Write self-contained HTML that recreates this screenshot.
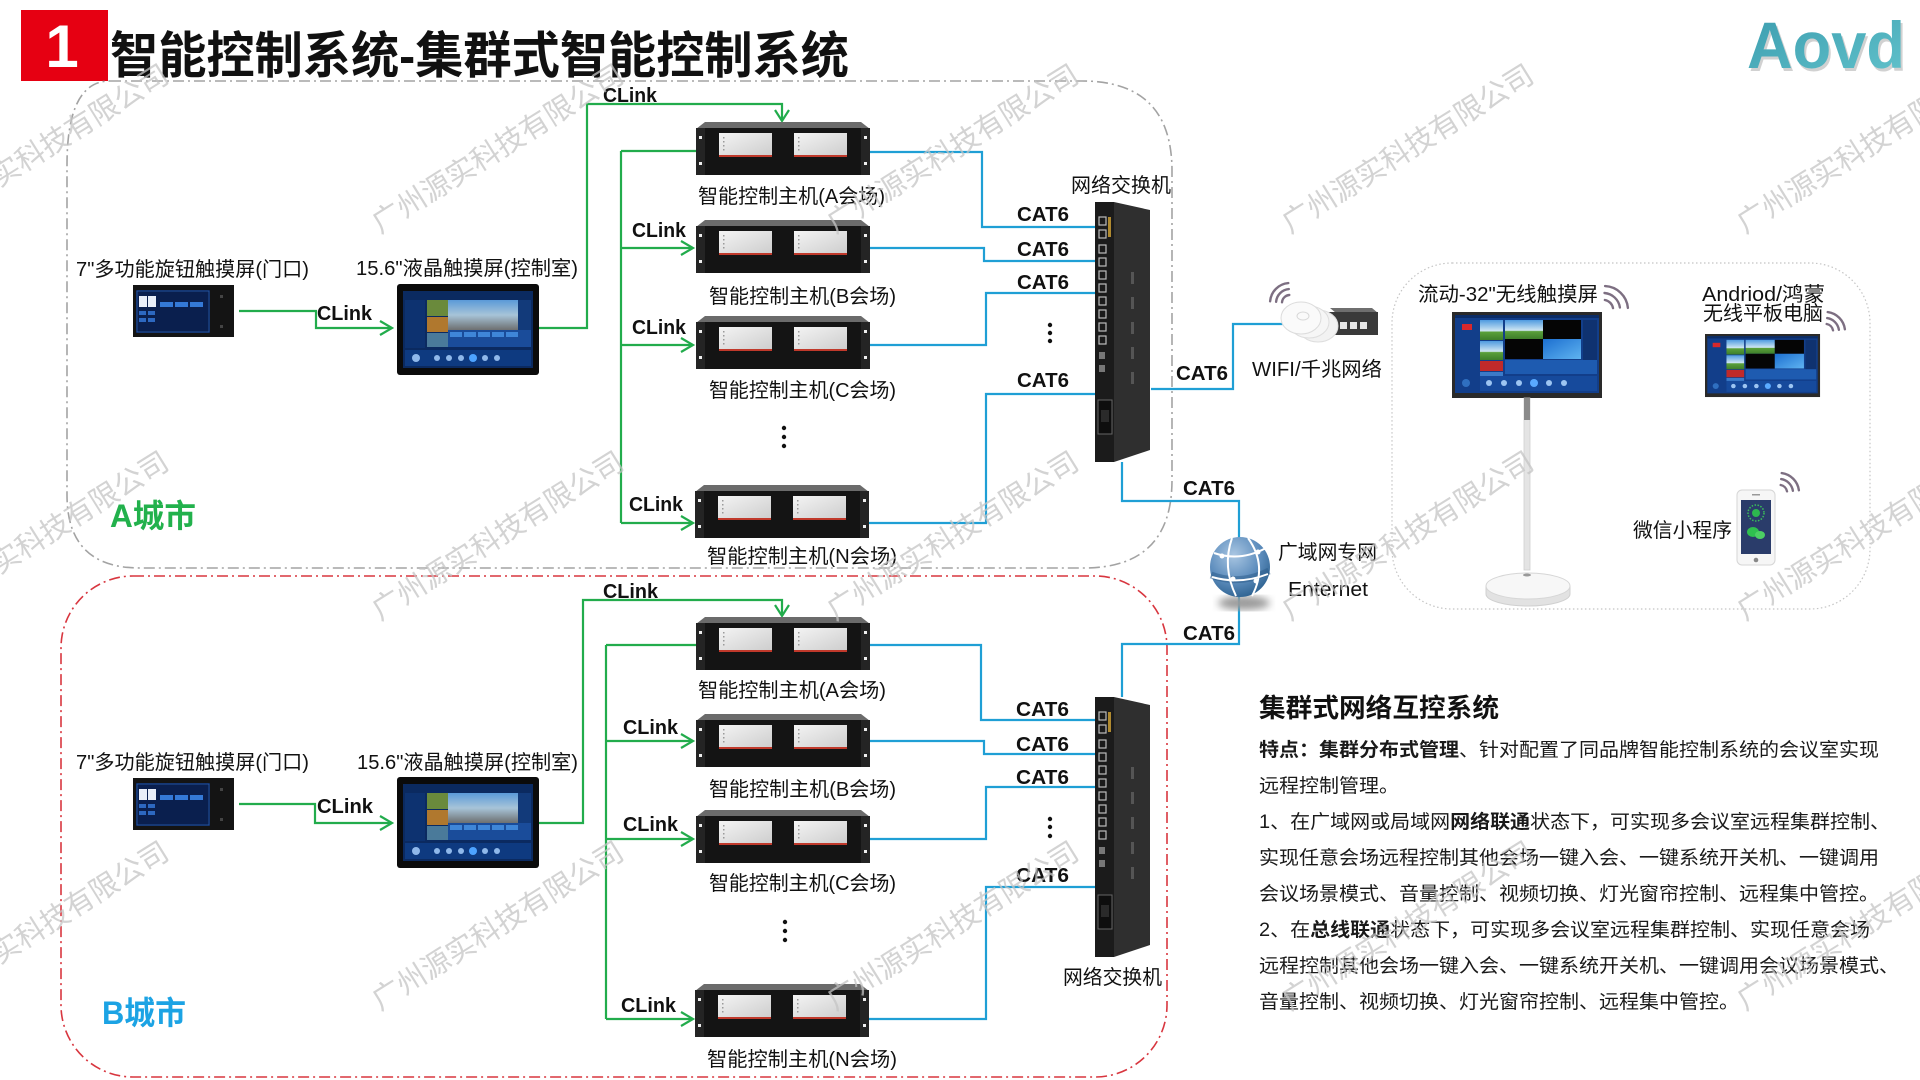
<!DOCTYPE html>
<html><head><meta charset="utf-8"><style>
html,body{margin:0;padding:0;background:#fff;}
svg{display:block;}
text{font-family:"Liberation Sans","Noto Sans CJK SC",sans-serif;}
</style></head><body>
<svg width="1920" height="1080" viewBox="0 0 1920 1080" xmlns="http://www.w3.org/2000/svg">
<defs>
 <linearGradient id="pan" x1="0" y1="0" x2="1" y2="1"><stop offset="0" stop-color="#f4f4f4"/><stop offset="1" stop-color="#cdcdcd"/></linearGradient>
 <linearGradient id="logo" x1="0" y1="0" x2="1" y2="1"><stop offset="0" stop-color="#3b9cae"/><stop offset="1" stop-color="#62c3cc"/></linearGradient>
 <radialGradient id="globe" cx="0.4" cy="0.3" r="0.8"><stop offset="0" stop-color="#a9c6e2"/><stop offset="0.55" stop-color="#5d8dbd"/><stop offset="1" stop-color="#245987"/></radialGradient>
 <linearGradient id="sky" x1="0" y1="0" x2="0" y2="1"><stop offset="0" stop-color="#5a9ad8"/><stop offset="0.5" stop-color="#a7c4d8"/><stop offset="1" stop-color="#6d6f70"/></linearGradient>
 <linearGradient id="land" x1="0" y1="0" x2="0" y2="1"><stop offset="0" stop-color="#4f9be0"/><stop offset="0.55" stop-color="#cfe6f2"/><stop offset="0.6" stop-color="#5aa03a"/><stop offset="1" stop-color="#3d7e2a"/></linearGradient>
 <linearGradient id="win" x1="0" y1="0" x2="1" y2="1"><stop offset="0" stop-color="#1c6fd0"/><stop offset="1" stop-color="#5fb3f0"/></linearGradient>
 <filter id="blur"><feGaussianBlur stdDeviation="4"/></filter>
 <g id="host">
  <polygon points="9,0 165,0 174,7 0,7" fill="#6b6b6b"/>
  <rect x="0" y="6" width="174" height="47" fill="#141414"/>
  <rect x="0" y="6" width="9" height="47" fill="#242424"/>
  <rect x="165" y="6" width="9" height="47" fill="#242424"/>
  <rect x="3" y="14" width="3" height="3" fill="#eee"/>
  <rect x="3" y="40" width="3" height="3" fill="#eee"/>
  <rect x="168" y="14" width="3" height="3" fill="#eee"/>
  <rect x="168" y="40" width="3" height="3" fill="#eee"/>
  <rect x="23" y="11" width="53" height="23" fill="url(#pan)"/>
  <rect x="23" y="33" width="53" height="2" fill="#c0392b"/>
  <rect x="98" y="11" width="53" height="23" fill="url(#pan)"/>
  <rect x="98" y="33" width="53" height="2" fill="#c0392b"/>
  <g fill="#9a9a9a"><rect x="27" y="15" width="1.5" height="1.5"/><rect x="27" y="19" width="1.5" height="1.5"/><rect x="27" y="23" width="1.5" height="1.5"/><rect x="27" y="27" width="1.5" height="1.5"/><rect x="102" y="15" width="1.5" height="1.5"/><rect x="102" y="19" width="1.5" height="1.5"/><rect x="102" y="23" width="1.5" height="1.5"/><rect x="102" y="27" width="1.5" height="1.5"/></g>
 </g>
 <g id="sw">
  <polygon points="19,0 55,8 55,248 19,260" fill="#2f2f2f"/>
  <rect x="0" y="0" width="19" height="260" fill="#1b1b1b"/>
  <g fill="none" stroke="#bdbdbd" stroke-width="1.2">
   <rect x="4" y="15" width="7" height="8"/><rect x="4" y="28" width="7" height="8"/>
   <rect x="4" y="43" width="7" height="8"/><rect x="4" y="56" width="7" height="8"/>
   <rect x="4" y="69" width="7" height="8"/><rect x="4" y="82" width="7" height="8"/>
   <rect x="4" y="95" width="7" height="8"/><rect x="4" y="108" width="7" height="8"/>
   <rect x="4" y="121" width="7" height="8"/><rect x="4" y="134" width="7" height="8"/>
  </g>
  <rect x="13" y="15" width="3" height="20" fill="#b08a30"/>
  <g fill="#777"><rect x="4" y="150" width="6" height="7"/><rect x="4" y="163" width="6" height="7"/></g>
  <rect x="3" y="198" width="14" height="34" fill="#0e0e0e" stroke="#666" stroke-width="1"/>
  <rect x="6" y="208" width="8" height="12" fill="#2a2a2a"/>
  <g fill="#555"><rect x="36" y="70" width="3" height="12"/><rect x="36" y="95" width="3" height="12"/><rect x="36" y="120" width="3" height="12"/><rect x="36" y="145" width="3" height="12"/><rect x="36" y="170" width="3" height="12"/></g>
 </g>
 <g id="p7">
  <rect width="101" height="52" fill="#141414"/>
  <rect x="3" y="5" width="74" height="43" fill="#0a1f4e"/>
  <rect x="4" y="6" width="72" height="41" fill="none" stroke="#2a5fb0" stroke-width="0.8"/>
  <rect x="6" y="11" width="8" height="11" fill="#e9eef8"/>
  <rect x="15" y="11" width="8" height="11" fill="#e9eef8"/>
  <rect x="27" y="17" width="13" height="5" fill="#3479d6"/>
  <rect x="42" y="17" width="13" height="5" fill="#3479d6"/>
  <rect x="57" y="17" width="13" height="5" fill="#3479d6"/>
  <rect x="6" y="26" width="7" height="4" fill="#2d68c0"/><rect x="15" y="26" width="7" height="4" fill="#2d68c0"/>
  <rect x="6" y="33" width="7" height="4" fill="#2d68c0"/><rect x="15" y="33" width="7" height="4" fill="#2d68c0"/>
  <rect x="87" y="10" width="3" height="3" fill="#444"/><rect x="87" y="40" width="3" height="3" fill="#444"/>
 </g>
 <g id="p15">
  <rect width="142" height="91" rx="3" fill="#0b0b0b"/>
  <rect x="6" y="7" width="130" height="77" fill="#0b2a60"/>
  <rect x="8" y="16" width="20" height="48" fill="#0d3270"/>
  <rect x="30" y="16" width="21" height="16" fill="#6a8a3c"/>
  <rect x="30" y="33" width="21" height="15" fill="#b0782e"/>
  <rect x="30" y="49" width="21" height="14" fill="#4a7a9a"/>
  <rect x="51" y="16" width="70" height="30" fill="url(#sky)"/>
  <rect x="121" y="16" width="13" height="30" fill="#123a7a"/>
  <rect x="51" y="46" width="83" height="17" fill="#1a4c9a"/>
  <g fill="#3f86d8"><rect x="53" y="48" width="12" height="5"/><rect x="67" y="48" width="12" height="5"/><rect x="81" y="48" width="12" height="5"/><rect x="95" y="48" width="12" height="5"/><rect x="109" y="48" width="12" height="5"/></g>
  <rect x="8" y="66" width="126" height="16" fill="#0e3a80"/>
  <g fill="#8fb8ea"><circle cx="19" cy="74" r="4"/><circle cx="40" cy="74" r="3"/><circle cx="52" cy="74" r="3"/><circle cx="64" cy="74" r="3"/><circle cx="76" cy="74" r="4" fill="#4da3ff"/><circle cx="88" cy="74" r="3"/><circle cx="100" cy="74" r="3"/></g>
 </g>
 <g id="bigui">
  <rect width="150" height="86" fill="#2a2a2a"/>
  <rect x="3" y="3" width="144" height="78" fill="#123e8a"/>
  <rect x="3" y="3" width="144" height="3" fill="#0b2c66"/>
  <rect x="10" y="12" width="10" height="6" fill="#d8282c"/>
  <rect x="28" y="8" width="23" height="20" fill="url(#land)"/>
  <rect x="28" y="29" width="23" height="19" fill="url(#land)"/>
  <rect x="28" y="49" width="23" height="10" fill="#c02a2a"/>
  <rect x="28" y="60" width="23" height="12" fill="#3b7ac8"/>
  <rect x="53" y="8" width="38" height="19" fill="url(#land)"/>
  <rect x="91" y="8" width="38" height="19" fill="#050505"/>
  <rect x="53" y="27" width="38" height="20" fill="#050505"/>
  <rect x="91" y="27" width="38" height="20" fill="url(#win)"/>
  <rect x="131" y="8" width="14" height="42" fill="#0f3270"/>
  <rect x="53" y="48" width="92" height="14" fill="#1e5bb0"/>
  <rect x="28" y="64" width="117" height="15" fill="#164a9c"/>
  <g fill="#9cc5f2"><circle cx="37" cy="71" r="3"/><circle cx="52" cy="71" r="3"/><circle cx="67" cy="71" r="3"/><circle cx="82" cy="71" r="4" fill="#5aaaff"/><circle cx="97" cy="71" r="3"/><circle cx="112" cy="71" r="3"/></g>
  <circle cx="14" cy="71" r="4" fill="#2f6fc0"/>
 </g>
</defs>

<!-- Title -->
<rect x="21" y="10" width="87" height="71" fill="#e60012"/>
<text x="62" y="67" font-size="60" font-weight="bold" fill="#fff" text-anchor="middle">1</text>
<text x="110" y="73" font-size="50" font-weight="bold" fill="#111" textLength="739" lengthAdjust="spacingAndGlyphs">智能控制系统-集群式智能控制系统</text>
<text x="1749" y="71" font-size="66" font-weight="bold" fill="#9a9a9a" opacity="0.45" textLength="158" lengthAdjust="spacingAndGlyphs">Aovd</text>
<text x="1747" y="68" font-size="66" font-weight="bold" fill="url(#logo)" textLength="158" lengthAdjust="spacingAndGlyphs">Aovd</text>

<!-- Regions -->
<path d="M110,81 H1082 Q1172,81 1172,171 V480 Q1172,568 1084,568 H140 Q67,568 67,495 V165 Q67,81 110,81 Z" fill="none" stroke="#a3a3a3" stroke-width="1.6" stroke-dasharray="11 4 2 4"/>
<rect x="61" y="576" width="1106" height="501" rx="72" fill="none" stroke="#d8363f" stroke-width="1.6" stroke-dasharray="11 4 2 4"/>
<rect x="1392" y="263" width="478" height="346" rx="60" fill="none" stroke="#c4c4c4" stroke-width="1.2" stroke-dasharray="1.5 2.5"/>

<!-- Green connectors -->
<g fill="none" stroke="#22ac4c" stroke-width="2.2">
 <path d="M239,311 H316 V328 H392"/><path d="M380,321 L392,328 L380,335"/>
 <path d="M539,328 H587 V104 H782 V121"/><path d="M775,110 L782,121 L789,110"/>
 <path d="M621,151 V523"/>
 <path d="M621,151 H696"/>
 <path d="M621,248 H693"/><path d="M681,241 L693,248 L681,255"/>
 <path d="M621,345 H693"/><path d="M681,338 L693,345 L681,352"/>
 <path d="M621,523 H693"/><path d="M681,516 L693,523 L681,530"/>

 <path d="M239,804 H315 V823 H392"/><path d="M380,816 L392,823 L380,830"/>
 <path d="M539,823 H583 V600 H782 V616"/><path d="M775,605 L782,616 L789,605"/>
 <path d="M606,645 V1019"/>
 <path d="M606,645 H696"/>
 <path d="M606,741 H693"/><path d="M681,734 L693,741 L681,748"/>
 <path d="M606,839 H693"/><path d="M681,832 L693,839 L681,846"/>
 <path d="M606,1019 H693"/><path d="M681,1012 L693,1019 L681,1026"/>
</g>

<!-- Blue connectors -->
<g fill="none" stroke="#1f9fd5" stroke-width="2.2">
 <path d="M869,152 H982 V227 H1095"/>
 <path d="M869,248 H984 V261 H1095"/>
 <path d="M869,345 H986 V293 H1095"/>
 <path d="M869,523 H986 V394 H1095"/>
 <path d="M1151,389 H1233 V324 H1300"/>
 <path d="M1122,462 V501 H1239 V540"/>
 <path d="M1239,595 V644 H1122 V697"/>
 <path d="M869,645 H981 V720 H1095"/>
 <path d="M869,741 H984 V754 H1095"/>
 <path d="M869,839 H986 V787 H1095"/>
 <path d="M869,1019 H986 V887 H1095"/>
</g>

<!-- Screens -->
<use href="#p7" x="133" y="285"/>
<use href="#p15" x="397" y="284"/>
<use href="#p7" x="133" y="778"/>
<use href="#p15" x="397" y="777"/>

<!-- Hosts -->
<use href="#host" x="696" y="122"/>
<use href="#host" x="696" y="220"/>
<use href="#host" x="696" y="316"/>
<use href="#host" x="695" y="485"/>
<use href="#host" x="696" y="617"/>
<use href="#host" x="696" y="714"/>
<use href="#host" x="696" y="810"/>
<use href="#host" x="695" y="984"/>

<!-- Switches -->
<use href="#sw" x="1095" y="202"/>
<use href="#sw" x="1095" y="697"/>

<!-- dots -->
<g fill="#111">
 <circle cx="784" cy="428" r="2.2"/><circle cx="784" cy="437" r="2.2"/><circle cx="784" cy="446" r="2.2"/>
 <circle cx="1050" cy="325" r="2.2"/><circle cx="1050" cy="333" r="2.2"/><circle cx="1050" cy="341" r="2.2"/>
 <circle cx="785" cy="922" r="2.2"/><circle cx="785" cy="931" r="2.2"/><circle cx="785" cy="940" r="2.2"/>
 <circle cx="1050" cy="819" r="2.2"/><circle cx="1050" cy="827" r="2.2"/><circle cx="1050" cy="836" r="2.2"/>
</g>

<!-- WiFi AP -->
<g>
 <polygon points="1330,308 1372,308 1378,313 1336,313" fill="#6f6f6f"/>
 <rect x="1327" y="312" width="51" height="23" fill="#3a3a3a"/>
 <g fill="#e8e8e8"><rect x="1340" y="322" width="7" height="7"/><rect x="1350" y="322" width="7" height="7"/><rect x="1360" y="322" width="7" height="7"/></g>
 <ellipse cx="1318" cy="326" rx="20" ry="16" fill="#f2f2f2" stroke="#dedede"/>
 <ellipse cx="1309" cy="322" rx="20" ry="16" fill="#f6f6f6" stroke="#dedede"/>
 <ellipse cx="1301" cy="318" rx="20" ry="16" fill="#fafafa" stroke="#dcdcdc"/>
 <ellipse cx="1303" cy="316" rx="6" ry="4" fill="none" stroke="#d8d8d8"/>
</g>

<!-- Globe -->
<ellipse cx="1244" cy="603" rx="26" ry="7" fill="#9a9a9a" filter="url(#blur)"/>
<circle cx="1240" cy="567" r="30" fill="url(#globe)"/>
<path d="M1211,575 Q1240,586 1269,571" fill="none" stroke="#2a5a88" stroke-width="7" opacity="0.5"/>
<g fill="none" stroke="#fff" stroke-width="2">
 <path d="M1214,553 Q1240,562 1266,548"/>
 <path d="M1212,577 Q1240,585 1268,574"/>
 <path d="M1232,538 Q1222,567 1236,596"/>
 <path d="M1248,538 Q1268,566 1252,596"/>
</g>
<g fill="#fff"><circle cx="1222" cy="556" r="2.5"/><circle cx="1258" cy="552" r="2.5"/><circle cx="1256" cy="581" r="2.5"/><circle cx="1233" cy="579" r="2.5"/></g>

<!-- Right wireless devices -->
<use href="#bigui" x="1452" y="312"/>
<rect x="1524" y="398" width="6" height="172" fill="#e4e4e4" stroke="#cfcfcf" stroke-width="0.8"/>
<rect x="1524" y="398" width="6" height="22" fill="#8a8a8a"/>
<path d="M1486,586 V594 A42 12 0 0 0 1570,594 V586" fill="#e2e2e2" stroke="#d0d0d0"/>
<ellipse cx="1528" cy="586" rx="42" ry="13" fill="#f7f7f7" stroke="#d6d6d6"/>
<ellipse cx="1527" cy="575" rx="4" ry="1.5" fill="#999"/>
<g transform="translate(1705,334) scale(0.767,0.733)"><use href="#bigui"/></g>
<rect x="1737" y="490" width="38" height="75" rx="5" fill="#f6f6f6" stroke="#d6d6d6"/>
<rect x="1741" y="500" width="30" height="54" fill="#2a3c6a"/>
<circle cx="1756" cy="513" r="8" fill="none" stroke="#3bbf5a" stroke-width="1.5" stroke-dasharray="1.5 1.5"/>
<circle cx="1756" cy="513" r="4" fill="#2db84f"/>
<ellipse cx="1753" cy="532" rx="6" ry="5" fill="#2fbf4f"/>
<ellipse cx="1760" cy="535" rx="5" ry="4" fill="#4ccf63"/>
<circle cx="1756" cy="560" r="2.3" fill="#888"/>
<rect x="1752" y="494" width="8" height="1.5" fill="#999"/>

<!-- Wireless arcs -->
<g fill="none" stroke="#7d6f82" stroke-width="2.4" stroke-linecap="round">
 <path d="M1282,302.3 A8 8 0 0 1 1289.3,295"/>
 <path d="M1276.1,301.8 A14 14 0 0 1 1288.8,289.1"/>
 <path d="M1270.1,301.3 A20 20 0 0 1 1288.3,283.1"/>
 <path d="M1604.9,300 A10 10 0 0 1 1613,308.1"/>
 <path d="M1604.5,293 A17 17 0 0 1 1619.9,307.5"/>
 <path d="M1605.1,286.1 A24 24 0 0 1 1627.9,307.9"/>
 <path d="M1826.7,324 A8 8 0 0 1 1833,330.3"/>
 <path d="M1827.2,318.1 A14 14 0 0 1 1838.9,329.8"/>
 <path d="M1827.7,312.1 A20 20 0 0 1 1844.9,329.3"/>
 <path d="M1780.7,485 A8 8 0 0 1 1787,491.3"/>
 <path d="M1781.2,479.1 A14 14 0 0 1 1792.9,490.8"/>
 <path d="M1781.7,473.1 A20 20 0 0 1 1798.9,490.3"/>
</g>

<!-- Labels -->
<g font-size="20" fill="#111">
 <text x="76" y="276" textLength="233" lengthAdjust="spacingAndGlyphs">7"多功能旋钮触摸屏(门口)</text>
 <text x="356" y="275" textLength="222" lengthAdjust="spacingAndGlyphs">15.6"液晶触摸屏(控制室)</text>
 <text x="76" y="769" textLength="233" lengthAdjust="spacingAndGlyphs">7"多功能旋钮触摸屏(门口)</text>
 <text x="357" y="769" textLength="221" lengthAdjust="spacingAndGlyphs">15.6"液晶触摸屏(控制室)</text>

 <text x="698" y="203" textLength="187" lengthAdjust="spacingAndGlyphs">智能控制主机(A会场)</text>
 <text x="709" y="303" textLength="187" lengthAdjust="spacingAndGlyphs">智能控制主机(B会场)</text>
 <text x="709" y="397" textLength="187" lengthAdjust="spacingAndGlyphs">智能控制主机(C会场)</text>
 <text x="707" y="563" textLength="190" lengthAdjust="spacingAndGlyphs">智能控制主机(N会场)</text>
 <text x="698" y="697" textLength="188" lengthAdjust="spacingAndGlyphs">智能控制主机(A会场)</text>
 <text x="709" y="796" textLength="187" lengthAdjust="spacingAndGlyphs">智能控制主机(B会场)</text>
 <text x="709" y="890" textLength="187" lengthAdjust="spacingAndGlyphs">智能控制主机(C会场)</text>
 <text x="707" y="1066" textLength="190" lengthAdjust="spacingAndGlyphs">智能控制主机(N会场)</text>

 <text x="1071" y="192" textLength="100" lengthAdjust="spacingAndGlyphs">网络交换机</text>
 <text x="1063" y="984" textLength="99" lengthAdjust="spacingAndGlyphs">网络交换机</text>
 <text x="1252" y="376" textLength="130" lengthAdjust="spacingAndGlyphs">WIFI/千兆网络</text>
 <text x="1278" y="559" textLength="99" lengthAdjust="spacingAndGlyphs">广域网专网</text>
 <text x="1288" y="596" textLength="80" lengthAdjust="spacingAndGlyphs">Enternet</text>
 <text x="1418" y="301" textLength="180" lengthAdjust="spacingAndGlyphs">流动-32"无线触摸屏</text>
 <text x="1702" y="301" textLength="123" lengthAdjust="spacingAndGlyphs">Andriod/鸿蒙</text>
 <text x="1703" y="320" textLength="120" lengthAdjust="spacingAndGlyphs">无线平板电脑</text>
 <text x="1633" y="537" textLength="99" lengthAdjust="spacingAndGlyphs">微信小程序</text>
</g>

<g font-size="20" font-weight="bold" fill="#111">
 <text x="603" y="102" textLength="54" lengthAdjust="spacingAndGlyphs">CLink</text>
 <text x="317" y="320" textLength="55" lengthAdjust="spacingAndGlyphs">CLink</text>
 <text x="632" y="237" textLength="54" lengthAdjust="spacingAndGlyphs">CLink</text>
 <text x="632" y="334" textLength="54" lengthAdjust="spacingAndGlyphs">CLink</text>
 <text x="629" y="511" textLength="54" lengthAdjust="spacingAndGlyphs">CLink</text>
 <text x="603" y="598" textLength="55" lengthAdjust="spacingAndGlyphs">CLink</text>
 <text x="317" y="813" textLength="56" lengthAdjust="spacingAndGlyphs">CLink</text>
 <text x="623" y="734" textLength="55" lengthAdjust="spacingAndGlyphs">CLink</text>
 <text x="623" y="831" textLength="55" lengthAdjust="spacingAndGlyphs">CLink</text>
 <text x="621" y="1012" textLength="55" lengthAdjust="spacingAndGlyphs">CLink</text>

 <text x="1017" y="221" textLength="52" lengthAdjust="spacingAndGlyphs">CAT6</text>
 <text x="1017" y="256" textLength="52" lengthAdjust="spacingAndGlyphs">CAT6</text>
 <text x="1017" y="289" textLength="52" lengthAdjust="spacingAndGlyphs">CAT6</text>
 <text x="1017" y="387" textLength="52" lengthAdjust="spacingAndGlyphs">CAT6</text>
 <text x="1176" y="380" textLength="52" lengthAdjust="spacingAndGlyphs">CAT6</text>
 <text x="1183" y="495" textLength="52" lengthAdjust="spacingAndGlyphs">CAT6</text>
 <text x="1183" y="640" textLength="52" lengthAdjust="spacingAndGlyphs">CAT6</text>
 <text x="1016" y="716" textLength="53" lengthAdjust="spacingAndGlyphs">CAT6</text>
 <text x="1016" y="751" textLength="53" lengthAdjust="spacingAndGlyphs">CAT6</text>
 <text x="1016" y="784" textLength="53" lengthAdjust="spacingAndGlyphs">CAT6</text>
 <text x="1016" y="882" textLength="53" lengthAdjust="spacingAndGlyphs">CAT6</text>
</g>

<text x="110" y="527" font-size="32" font-weight="bold" fill="#22b14c" textLength="86" lengthAdjust="spacingAndGlyphs">A城市</text>
<text x="102" y="1024" font-size="32" font-weight="bold" fill="#1ca3e4" textLength="84" lengthAdjust="spacingAndGlyphs">B城市</text>

<!-- Description block -->
<text x="1259" y="717" font-size="26" font-weight="bold" fill="#111" textLength="240" lengthAdjust="spacingAndGlyphs">集群式网络互控系统</text>
<g font-size="19" fill="#1a1a1a">
 <text x="1259" y="756" textLength="620" lengthAdjust="spacingAndGlyphs"><tspan font-weight="bold">特点：集群分布式管理</tspan>、针对配置了同品牌智能控制系统的会议室实现</text>
 <text x="1259" y="792" textLength="140" lengthAdjust="spacingAndGlyphs">远程控制管理。</text>
 <text x="1259" y="828" textLength="631" lengthAdjust="spacingAndGlyphs">1、在广域网或局域网<tspan font-weight="bold">网络联通</tspan>状态下，可实现多会议室远程集群控制、</text>
 <text x="1259" y="864" textLength="620" lengthAdjust="spacingAndGlyphs">实现任意会场远程控制其他会场一键入会、一键系统开关机、一键调用</text>
 <text x="1259" y="900" textLength="620" lengthAdjust="spacingAndGlyphs">会议场景模式、音量控制、视频切换、灯光窗帘控制、远程集中管控。</text>
 <text x="1259" y="936" textLength="611" lengthAdjust="spacingAndGlyphs">2、在<tspan font-weight="bold">总线联通</tspan>状态下，可实现多会议室远程集群控制、实现任意会场</text>
 <text x="1259" y="972" textLength="640" lengthAdjust="spacingAndGlyphs">远程控制其他会场一键入会、一键系统开关机、一键调用会议场景模式、</text>
 <text x="1259" y="1008" textLength="480" lengthAdjust="spacingAndGlyphs">音量控制、视频切换、灯光窗帘控制、远程集中管控。</text>
</g>

<!-- Watermarks -->
<g font-size="29" fill="#c4c4c4" opacity="0.75">
 <text x="-75" y="234" transform="rotate(-32 -75 234)">广州源实科技有限公司</text>
 <text x="380" y="234" transform="rotate(-32 380 234)">广州源实科技有限公司</text>
 <text x="835" y="234" transform="rotate(-32 835 234)">广州源实科技有限公司</text>
 <text x="1290" y="234" transform="rotate(-32 1290 234)">广州源实科技有限公司</text>
 <text x="1745" y="234" transform="rotate(-32 1745 234)">广州源实科技有限公司</text>
 <text x="-75" y="621" transform="rotate(-32 -75 621)">广州源实科技有限公司</text>
 <text x="380" y="621" transform="rotate(-32 380 621)">广州源实科技有限公司</text>
 <text x="835" y="621" transform="rotate(-32 835 621)">广州源实科技有限公司</text>
 <text x="1290" y="621" transform="rotate(-32 1290 621)">广州源实科技有限公司</text>
 <text x="1745" y="621" transform="rotate(-32 1745 621)">广州源实科技有限公司</text>
 <text x="-75" y="1011" transform="rotate(-32 -75 1011)">广州源实科技有限公司</text>
 <text x="380" y="1011" transform="rotate(-32 380 1011)">广州源实科技有限公司</text>
 <text x="835" y="1011" transform="rotate(-32 835 1011)">广州源实科技有限公司</text>
 <text x="1290" y="1011" transform="rotate(-32 1290 1011)">广州源实科技有限公司</text>
 <text x="1745" y="1011" transform="rotate(-32 1745 1011)">广州源实科技有限公司</text>
</g>
</svg>
</body></html>
